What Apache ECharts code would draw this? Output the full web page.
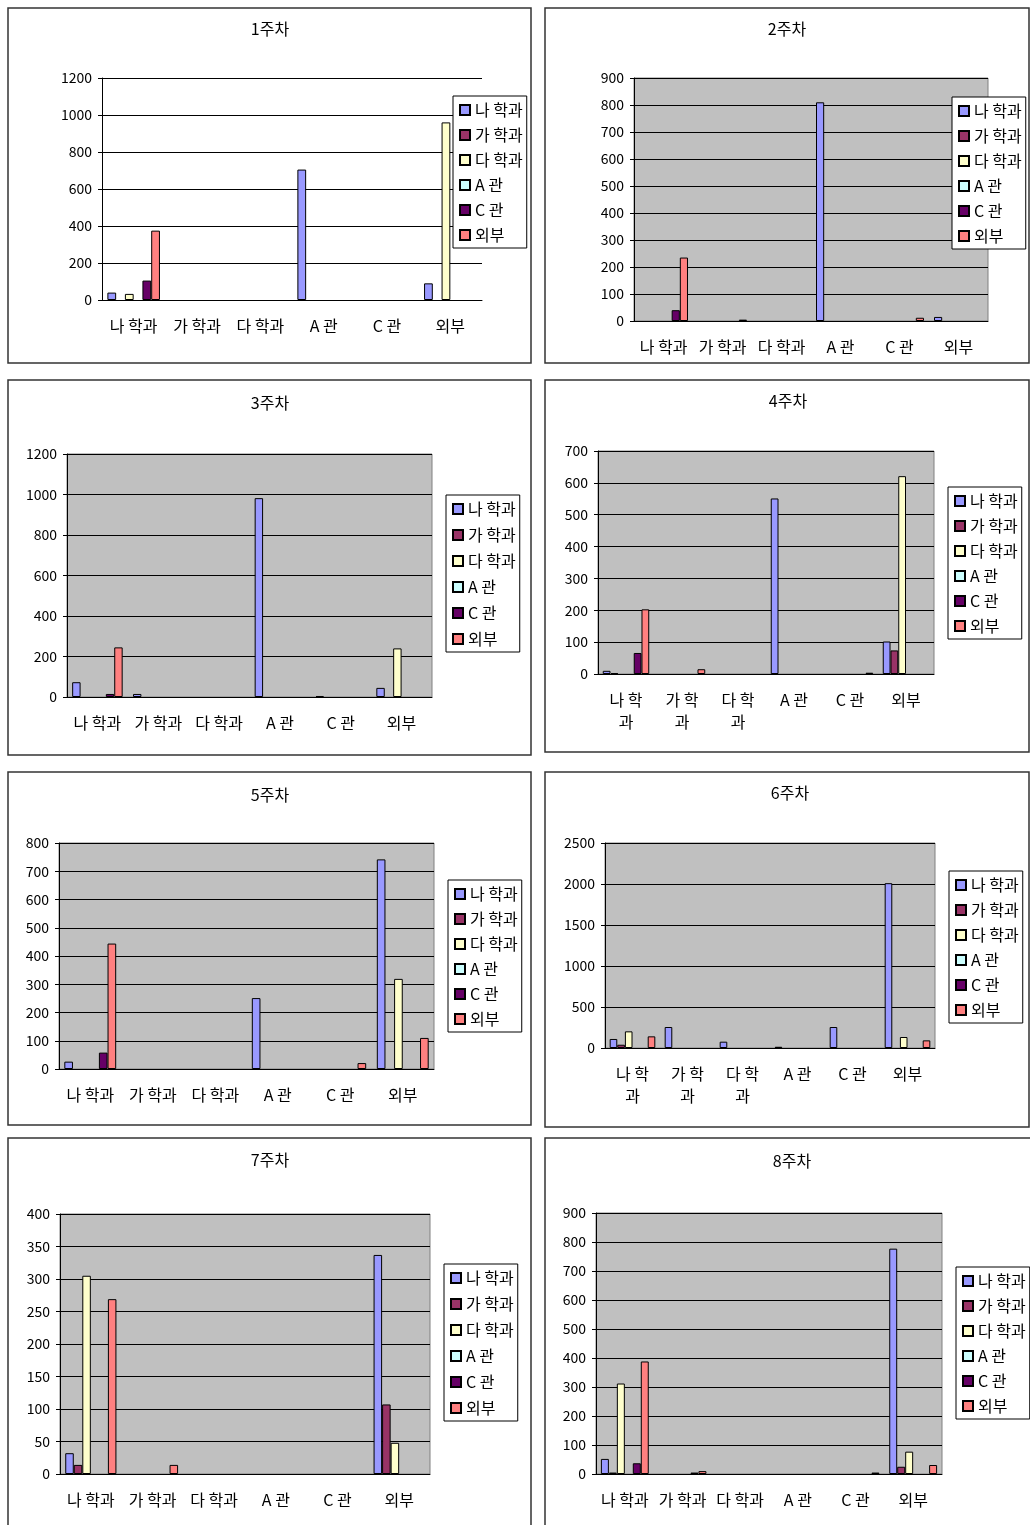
<!DOCTYPE html>
<html>
<head>
<meta charset="utf-8">
<script src="https://cdn.jsdelivr.net/npm/echarts@6/dist/echarts.min.js"></script>
<style>
html, body { margin: 0; padding: 0; background: #fff; }
#main { width: 1030px; height: 1525px; }
</style>
</head>
<body>
<div id="main"></div>
<script>
var categories = ['나 학과', '가 학과', '다 학과', 'A 관', 'C 관', '외부'];
var seriesNames = ['나 학과', '가 학과', '다 학과', 'A 관', 'C 관', '외부'];
var colors = ['#9999FF', '#993366', '#FFFFCC', '#CCFFFF', '#660066', '#FF8080'];
var titles = ['1주차', '2주차', '3주차', '4주차', '5주차', '6주차', '7주차', '8주차'];

// 주차별 값: 행 = 시리즈(나 학과, 가 학과, 다 학과, A 관, C 관, 외부), 열 = 카테고리
var week1 = [
  [40, 0, 0, 705, 0, 90],
  [0, 0, 0, 0, 0, 0],
  [33, 0, 0, 0, 0, 960],
  [0, 0, 0, 0, 0, 0],
  [105, 0, 0, 0, 0, 0],
  [375, 0, 0, 0, 0, 0]
];
var week2 = [
  [0, 0, 0, 810, 0, 15],
  [0, 0, 0, 0, 0, 0],
  [0, 0, 0, 0, 0, 0],
  [0, 0, 0, 0, 0, 0],
  [40, 0, 0, 0, 0, 0],
  [235, 5, 0, 0, 12, 0]
];
var week3 = [
  [73, 15, 0, 982, 5, 45],
  [0, 0, 0, 0, 0, 0],
  [0, 0, 0, 0, 0, 240],
  [0, 0, 0, 0, 0, 0],
  [15, 0, 0, 0, 0, 0],
  [245, 0, 0, 0, 0, 0]
];
var week4 = [
  [10, 0, 0, 551, 0, 102],
  [3, 0, 0, 0, 0, 74],
  [0, 0, 0, 0, 0, 621],
  [0, 0, 0, 0, 0, 0],
  [66, 0, 0, 0, 0, 0],
  [203, 15, 0, 0, 4, 0]
];
var week5 = [
  [26, 0, 0, 251, 0, 742],
  [0, 0, 0, 0, 0, 0],
  [0, 0, 0, 0, 0, 319],
  [0, 0, 0, 0, 0, 0],
  [58, 0, 0, 0, 0, 0],
  [444, 0, 0, 0, 21, 110]
];
var week6 = [
  [110, 256, 77, 15, 256, 2010],
  [40, 0, 0, 0, 0, 0],
  [203, 0, 0, 0, 0, 134],
  [0, 0, 0, 0, 0, 0],
  [0, 0, 0, 0, 0, 0],
  [142, 0, 0, 0, 0, 93]
];
var week7 = [
  [32, 0, 0, 0, 0, 337],
  [14, 0, 0, 0, 0, 107],
  [305, 0, 0, 0, 0, 48],
  [0, 0, 0, 0, 0, 0],
  [0, 0, 0, 0, 0, 0],
  [269, 14, 0, 0, 0, 0]
];
var week8 = [
  [52, 0, 0, 0, 0, 777],
  [5, 0, 0, 0, 0, 25],
  [312, 0, 0, 0, 0, 77],
  [0, 0, 0, 0, 0, 0],
  [37, 5, 0, 0, 0, 0],
  [388, 10, 0, 0, 5, 31]
];
var weeks = [week1, week2, week3, week4, week5, week6, week7, week8];
var yMax = [1200, 900, 1200, 700, 800, 2500, 400, 900];
var yStep = [200, 100, 200, 100, 100, 500, 50, 100];

// 패널 배치 (px)
var frames = [
  [8, 8, 523, 355], [545, 8, 484, 355],
  [8, 380, 523, 375], [545, 380, 484, 372],
  [8, 772, 523, 353], [545, 772, 484, 355],
  [8, 1138, 523, 400], [545, 1138, 500, 400]
];
var grids = [
  [102, 78, 380, 222], [634, 78, 354, 243],
  [67, 454, 365, 243], [598, 451, 336, 223],
  [59, 843, 375, 226], [605, 843, 330, 205],
  [60, 1214, 370, 260], [596, 1213, 346, 261]
];
var titlePos = [[270, 29], [787, 29], [270, 403], [788, 401], [270, 795], [790, 793], [270, 1160], [792, 1161]];
var legendPos = [[453, 96, 9], [952, 97, 9], [446, 495, 10], [948, 487, 9], [448, 880, 9], [949, 871, 9], [444, 1264, 10], [956, 1267, 9]];
var wrapLabels = [false, false, false, true, false, true, false, false];

var FONT = '"Noto Sans CJK KR", "Noto Sans", sans-serif';

var option = {
  animation: false,
  textStyle: { fontFamily: FONT, color: '#000' },
  grid: [], xAxis: [], yAxis: [], legend: [], series: [], graphic: []
};

for (var p = 0; p < 8; p++) {
  var g = grids[p];
  option.grid.push({
    left: g[0], top: g[1], width: g[2], height: g[3],
    show: p > 0,
    backgroundColor: '#C0C0C0',
    borderColor: '#808080',
    borderWidth: 1
  });
  option.xAxis.push({
    type: 'category', gridIndex: p, data: categories,
    axisLine: { lineStyle: { color: '#000', width: 1 } },
    axisTick: { inside: true, length: 6, lineStyle: { color: '#000' } },
    axisLabel: {
      interval: 0, fontSize: 16, color: '#000', fontFamily: FONT,
      margin: wrapLabels[p] ? 15 : 17,
      lineHeight: wrapLabels[p] ? 22 : 18,
      formatter: wrapLabels[p] ? function (v) {
        return v.length > 3 ? v.slice(0, 3) + '\n' + v.slice(3) : v;
      } : null
    }
  });
  option.yAxis.push({
    type: 'value', gridIndex: p, min: 0, max: yMax[p], interval: yStep[p],
    axisLine: { show: true, lineStyle: { color: '#000', width: 1 } },
    axisTick: { show: true, length: 4, lineStyle: { color: '#000' } },
    axisLabel: {
      fontSize: 14, color: '#000', margin: 10, fontFamily: FONT,
      formatter: function (v) { return String(v); }
    },
    splitLine: { lineStyle: { color: '#000', width: 1 } }
  });
  var lp = legendPos[p];
  option.legend.push({
    left: lp[0], top: lp[1], orient: 'vertical',
    data: seriesNames,
    icon: 'rect', itemWidth: 10, itemHeight: 10, itemGap: lp[2], itemTextGap: 3,
    padding: [6, 4, 5, 6],
    backgroundColor: '#fff', borderColor: '#000', borderWidth: 1,
    selectedMode: false,
    textStyle: { fontSize: 16, lineHeight: 16, color: '#000', fontFamily: FONT }
  });
  for (var s = 0; s < seriesNames.length; s++) {
    option.series.push({
      name: seriesNames[s], type: 'bar',
      xAxisIndex: p, yAxisIndex: p,
      data: weeks[p][s].map(function (v) { return v === 0 ? '-' : v; }),
      barGap: '0%', barCategoryGap: '17%',
      itemStyle: { color: colors[s], borderColor: '#000', borderWidth: 1 },
      emphasis: { disabled: true }
    });
  }
  var f = frames[p];
  option.graphic.push({
    type: 'rect', z: 100,
    shape: { x: f[0], y: f[1], width: f[2], height: f[3] },
    style: { fill: 'transparent', stroke: '#333', lineWidth: 1.5 }
  });
  option.graphic.push({
    type: 'text', z: 100,
    x: titlePos[p][0], y: titlePos[p][1],
    style: {
      text: titles[p], font: '16px ' + FONT, fill: '#000',
      align: 'center', verticalAlign: 'middle',
      textAlign: 'center', textVerticalAlign: 'middle'
    }
  });
}

var chart = echarts.init(document.getElementById('main'));
chart.setOption(option);
</script>
</body>
</html>
